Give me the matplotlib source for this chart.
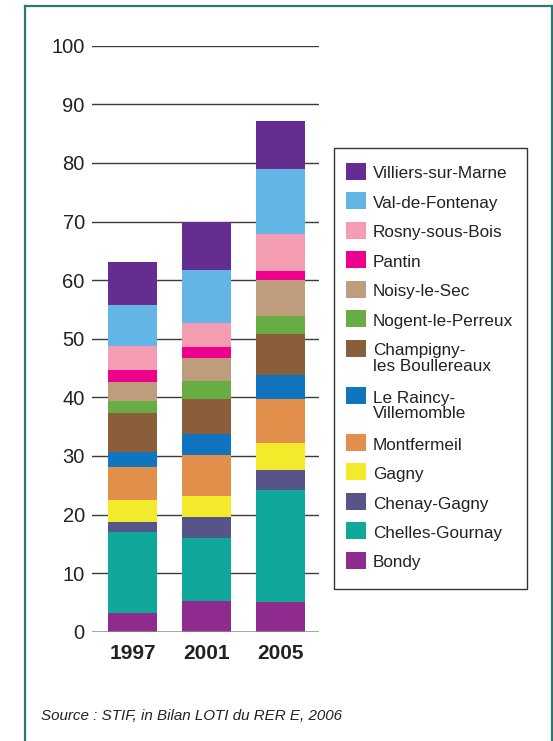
import matplotlib
matplotlib.use('Agg')
import matplotlib.pyplot as plt
from matplotlib.patches import Rectangle
from matplotlib.lines import Line2D

plt.rcParams['font.family'] = ['Liberation Sans', 'DejaVu Sans']

years = ['1997', '2001', '2005']

# stacked from the bottom of each bar upwards
bondy = [3.2, 5.3, 5.0]
chelles = [13.8, 10.7, 19.1]
chenay = [1.7, 3.55, 3.5]
gagny = [3.7, 3.55, 4.6]
montfermeil = [5.75, 7.1, 7.5]
raincy = [2.55, 3.6, 4.1]
champigny = [6.6, 5.9, 7.05]
nogent = [2.0, 3.1, 3.05]
noisy = [3.3, 3.9, 6.1]
pantin = [2.0, 1.8, 1.6]
rosny = [4.1, 4.1, 6.3]
val_fontenay = [7.1, 9.15, 11.0]
villiers = [7.3, 8.25, 8.3]

names = ['Bondy', 'Chelles-Gournay', 'Chenay-Gagny', 'Gagny', 'Montfermeil',
         'Le Raincy-\nVillemomble', 'Champigny-\nles Boullereaux',
         'Nogent-le-Perreux', 'Noisy-le-Sec', 'Pantin', 'Rosny-sous-Bois',
         'Val-de-Fontenay', 'Villiers-sur-Marne']
series = [bondy, chelles, chenay, gagny, montfermeil, raincy, champigny,
          nogent, noisy, pantin, rosny, val_fontenay, villiers]
colors = ['#8f2a8e', '#11a89c', '#55558a', '#f4ea2c', '#e28f4b', '#1174be',
          '#8a5d3b', '#68ac44', '#bf9c7c', '#ec008c', '#f49cb2', '#63b5e5',
          '#662d91']

W, H = 553, 741


def fx(x):
    return x / W


def fy(y):
    return 1 - y / H


fig = plt.figure(figsize=(W / 100, H / 100), dpi=100)
ax = fig.add_axes([fx(91.7), fy(631.7), (319.3 - 91.7) / W, (631.7 - 45.7) / H])

# grid lines under the bars
for v in range(10, 101, 10):
    ax.axhline(v, color='#3c3c3c', lw=1.0, zorder=0)
ax.axhline(0, color='#8a8a8a', lw=1.8, zorder=3)

xs = range(len(years))
bottom = [0, 0, 0]
for vals, c in zip(series, colors):
    ax.bar(xs, vals, bottom=bottom, width=0.66, color=c, lw=0, zorder=2)
    bottom = [b + v for b, v in zip(bottom, vals)]

ax.set_xlim(-0.551, 2.524)
ax.set_ylim(0, 100)
ax.set_yticks(range(0, 101, 10))
ax.set_yticklabels([str(v) for v in range(0, 101, 10)], fontsize=14.5, color='#222222')
ax.set_xticks(list(xs))
ax.set_xticklabels(years, fontsize=15, fontweight='bold', color='#222222')
ax.tick_params(axis='y', length=0, pad=5)
ax.tick_params(axis='x', length=0, pad=8.5)
for s in ax.spines.values():
    s.set_visible(False)

# legend box, drawn by hand
fig.patches.append(Rectangle((fx(334), fy(589)), (527 - 334) / W, (589 - 148) / H,
                             transform=fig.transFigure, fill=False,
                             edgecolor='#333333', lw=1.0))
y0 = 162.5
for name, c in zip(names[::-1], colors[::-1]):
    fig.patches.append(Rectangle((fx(346), fy(y0 + 17)), 20 / W, 17 / H,
                                 transform=fig.transFigure, color=c, lw=0))
    lines = name.split('\n')
    for i, ln in enumerate(lines):
        fig.text(fx(373), fy(y0 + 16 + i * 15.7), ln, fontsize=12.3,
                 color='#222222', va='baseline', ha='left')
    y0 += 29.5 + 17.5 * (len(lines) - 1)

# outer frame
frame = '#2c7873'
fig.add_artist(Line2D([fx(25), fx(551.7)], [fy(6), fy(6)], color=frame, lw=1.6))
fig.add_artist(Line2D([fx(25), fx(25)], [fy(6), 0], color=frame, lw=1.6))
fig.add_artist(Line2D([fx(551.7), fx(551.7)], [fy(6), 0], color=frame, lw=1.6))

fig.text(fx(41), fy(720.5), 'Source : STIF, in Bilan LOTI du RER E, 2006',
         fontsize=10.9, style='italic', color='#222222', va='baseline')

fig.savefig('out.png', dpi=100)
